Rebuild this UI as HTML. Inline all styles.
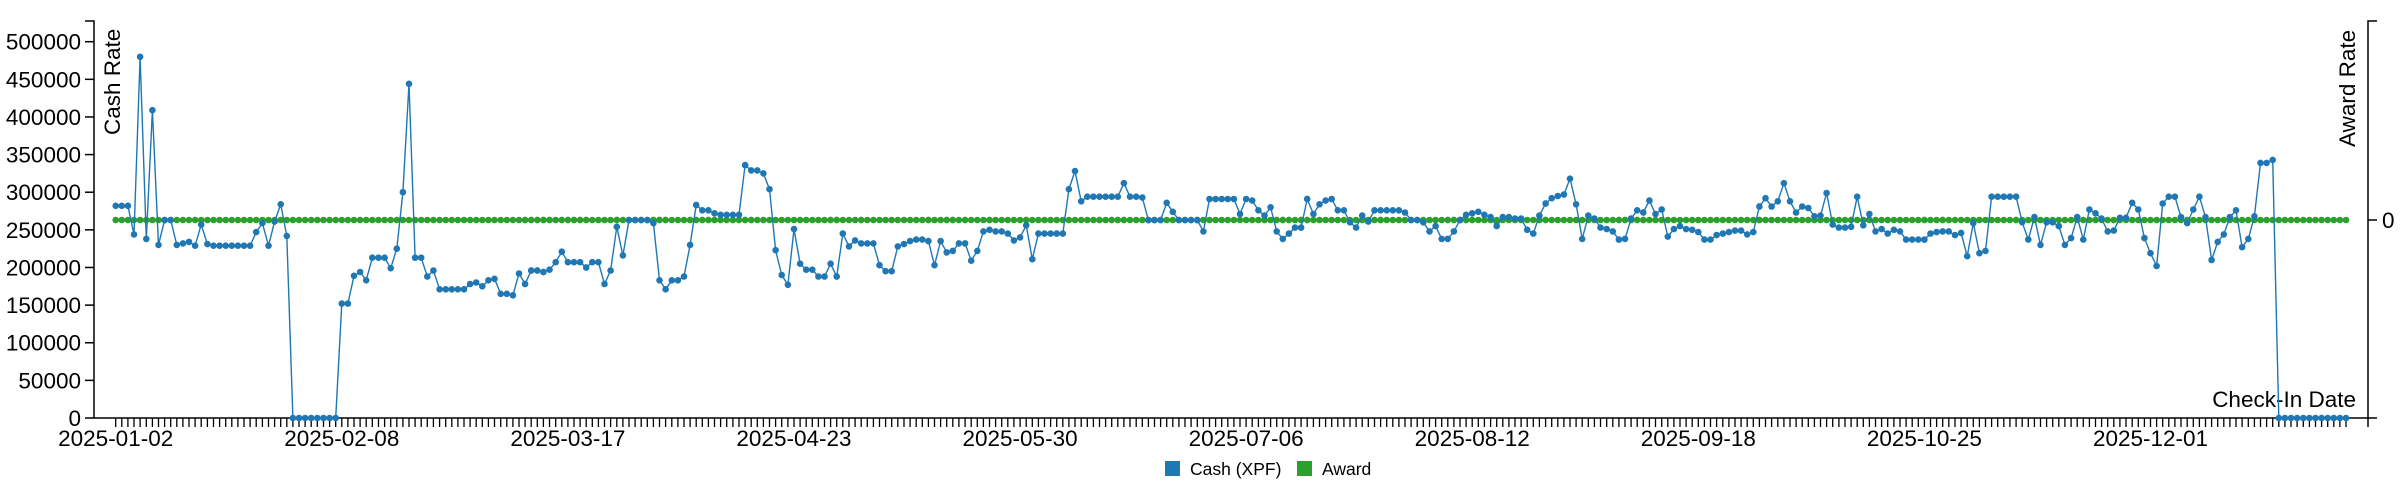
<!DOCTYPE html>
<html><head><meta charset="utf-8"><style>
html,body{margin:0;padding:0;background:#fff;}
svg{display:block;font-family:"Liberation Sans",Arial,sans-serif;}
</style></head><body>
<svg id="c" width="2406" height="489" xmlns="http://www.w3.org/2000/svg">
<g id="axes" stroke="#000" stroke-width="1.5" fill="none"></g>
<g id="txt" fill="#000" font-size="22.5"></g>
<g id="ser"></g>
</svg>
<script>
const NS="http://www.w3.org/2000/svg";
function el(p,t,a,txt){const e=document.createElementNS(NS,t);for(const k in a)e.setAttribute(k,a[k]);if(txt!==undefined)e.textContent=txt;p.appendChild(e);return e;}
const axes=document.getElementById('axes'),txt=document.getElementById('txt'),ser=document.getElementById('ser');
const L=94,R=2368,T=21,B=418,K=0.7526;
const Y=v=>B-v*K;
// left axis
el(axes,'path',{d:`M${L-9},${T}H${L}V${B}H${R}`});
for(let i=0;i<=10;i++){const y=Y(i*50);el(axes,'line',{x1:L-9,y1:y,x2:L,y2:y});
 el(txt,'text',{x:L-13,y:y+8,'text-anchor':'end'},String(i*50000));}
// right axis
el(axes,'path',{d:`M${R+9},${T}H${R}V${B+9}`});
el(axes,'line',{x1:R,y1:B,x2:R+9,y2:B});
el(axes,'line',{x1:R,y1:220,x2:R+9,y2:220});
el(txt,'text',{x:R+14,y:228},'0');
el(txt,'text',{transform:`translate(120,135) rotate(-90)`},'Cash Rate');
el(txt,'text',{transform:`translate(2355,147) rotate(-90)`},'Award Rate');
el(txt,'text',{x:2356,y:407,'text-anchor':'end'},'Check-In Date');
// data
const highs=[282,282,282,244,480,238,409,230,263,263,
230,232,234,229,257,231,229,229,229,229,229,229,229,247,259,229,261,284,242,
0,0,0,0,0,0,0,0,
152,152,189,194,183,213,213,213,199,225,300,444,213,213,188,196,171,171,171,171,171,
178,180,175,183,185,165,165,163,192,178,196,196,194,197,207,221,207,207,207,200,207,207,178,196,254,216,263,263,263,263,259,183,171,183,183,188,230,283,276,276,272,270,270,270,270,
336,329,329,325,304,223,190,177,251,205,197,197,188,188,205,188,245,228,236,232,232,232,203,195,195,228,231,235,237,237,235,203,235,220,222,232,232,209,222,248,250,248,248,245,236,240,256,211,245,245,245,245,245,304,328,288,294,294,294,294,294,294,
312,294,294,293,263,263,263,286,274,263,263,263,263,248,291,291,291,291,291,271,291,289,276,269,280,248,238,245,253,253,291,271,284,289,291,276,276,260,253,269,261,276,276,276,276,276,273,263,263,260,248,255,238,238,248,263,270,272,274,270,267,255,267,267,
265,265,250,245,269,285,292,295,297,318,284,238,269,265,253,251,248,237,238,265,276,273,289,271,277,241,251,255,251,250,247,237,237,243,245,247,249,249,244,247,281,292,281,288,312,288,273,281,279,268,269,299,257,253,253,254,294,256,271,248,251,245,250,248,
237,237,237,237,245,247,248,248,243,246,215,259,219,222,294,294,294,294,294,260,237,267,230,260,260,255,230,239,267,237,277,272,265,248,249,266,266,286,277,239,219,202,285,294,294,267,259,277,294,267,210,234,244,267,276,227,238,268,339,339,343];
const x0=115.7,H=highs.length,step=(2272.7-x0)/(H-1);
const vals=highs.slice();
while(x0+vals.length*step<=2348)vals.push(0);
const N=vals.length;
// x ticks
let tp='';
for(let i=0;i<N;i++){const x=x0+i*step;tp+=`M${x.toFixed(1)},${B}V${B+9}`;}
el(axes,'path',{d:tp,'stroke-width':'1.3'});
const labels=['2025-01-02','2025-02-08','2025-03-17','2025-04-23','2025-05-30','2025-07-06','2025-08-12','2025-09-18','2025-10-25','2025-12-01'];
labels.forEach((s,k)=>{el(txt,'text',{x:x0+k*37*step,y:446,'text-anchor':'middle'},s);});
// green
let g='';
for(let i=0;i<N;i++){const x=x0+i*step;g+=`M${(x-3.3).toFixed(1)},220a3.3,3.3 0 1,0 6.6,0a3.3,3.3 0 1,0 -6.6,0`;}
el(ser,'line',{x1:x0,y1:220,x2:x0+(N-1)*step,y2:220,stroke:'#2ca02c','stroke-width':'1.5'});
el(ser,'path',{d:g,fill:'#2ca02c'});
// blue
let lp='',dp='';
vals.forEach((v,i)=>{const x=x0+i*step,y=Y(v);lp+=(i?'L':'M')+x.toFixed(1)+','+y.toFixed(1);
 dp+=`M${(x-3.3).toFixed(1)},${y.toFixed(1)}a3.3,3.3 0 1,0 6.6,0a3.3,3.3 0 1,0 -6.6,0`;});
el(ser,'path',{d:lp,fill:'none',stroke:'#1f77b4','stroke-width':'1.4'});
el(ser,'path',{d:dp,fill:'#1f77b4'});
// legend
el(txt,'rect',{x:1165,y:461,width:15,height:15,fill:'#1f77b4'});
el(txt,'text',{x:1190,y:475,'font-size':'17.5'},'Cash (XPF)');
el(txt,'rect',{x:1297,y:461,width:15,height:15,fill:'#2ca02c'});
el(txt,'text',{x:1322,y:475,'font-size':'17.5'},'Award');
</script>
</body></html>
